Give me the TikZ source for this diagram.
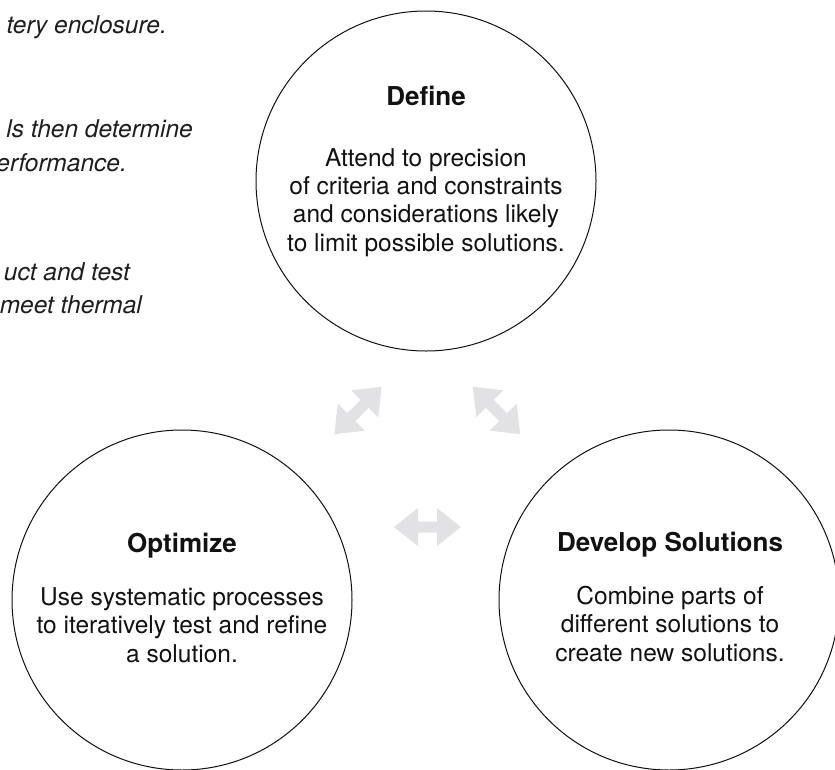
\documentclass[tikz,border=0pt]{standalone}
\usepackage{fontspec}
\setmainfont{TeX Gyre Heros}
\usetikzlibrary{calc}
\definecolor{arrowgray}{RGB}{226,226,228}
\definecolor{ink}{RGB}{17,17,17}
\definecolor{noteink}{RGB}{30,30,30}
\newcommand{\fatarrow}[3]{%
  \begin{scope}[shift={(#1,#2)}, rotate=#3]
    \fill[arrowgray] (-33.5,0) -- (-9.5,19) -- (-9.5,5.5) -- (9.5,5.5) -- (9.5,19)
      -- (33.5,0) -- (9.5,-19) -- (9.5,-5.5) -- (-9.5,-5.5) -- (-9.5,-19) -- cycle;
  \end{scope}}
\tikzset{
  phase/.style={circle, draw=ink, line width=1pt, minimum size=340pt, inner sep=0pt},
  phasetitle/.style={anchor=base, inner sep=0pt, text=ink, font=\fontsize{26}{28}\selectfont\bfseries},
  phasebody/.style={anchor=base, inner sep=0pt, text=ink, align=center, font=\fontsize{24.5}{28.3}\selectfont},
  note/.style={anchor=base east, inner sep=0pt, text=noteink, font=\fontsize{24.5}{28}\selectfont\itshape}
}
\begin{document}
\begin{tikzpicture}[x=1pt, y=-1pt]
\useasboundingbox (0,0) rectangle (835,769);
\fill[white] (0,0) rectangle (835,769);

% notes (cut at the left edge)
\node[note] (n1) at (167,33) {tery enclosure.};
\node[note] (n2) at (193,137) {ls then determine};
\node[note] (n3) at (127,171) {erformance.};
\node[note] (n4) at (130,280) {uct and test};
\node[note] (n5) at (142,313) {meet thermal};

% circles
\node[phase] (define) at (426,181) {};
\node[phase] (optimize) at (182,600) {};
\node[phase] (develop) at (669,600) {};

% texts (body anchored at the baseline of its last line)
\node[phasetitle] (defineT) at (426,105) {Define};
\node[phasebody] (defineB) at (426,251) {Attend to precision\\of criteria and constraints\\and considerations likely\\to limit possible solutions.};

\node[phasetitle] (optimizeT) at (182,552) {Optimize};
\node[phasebody] (optimizeB) at (182,662) {Use systematic processes\\to iteratively test and refine\\a solution.};

\node[phasetitle] (developT) at (670,551) {Develop Solutions};
\node[phasebody] (developB) at (670,661) {Combine parts of\\different solutions to\\create new solutions.};

% arrows
\fatarrow{358}{410.5}{45}
\fatarrow{496.5}{410.5}{-45}
\fatarrow{427.5}{527}{0}
\end{tikzpicture}
\end{document}
